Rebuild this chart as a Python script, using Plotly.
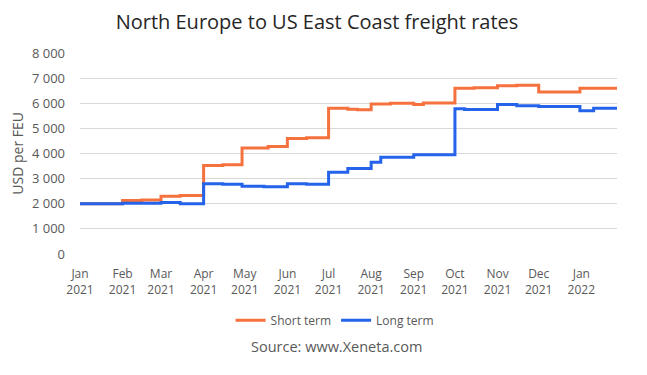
import plotly.graph_objects as go

# Step-change dates and values (USD per FEU)
short_dates = ["2021-01-01", "2021-02-01", "2021-02-15", "2021-03-01", "2021-03-15",
               "2021-04-01", "2021-04-15", "2021-04-29", "2021-05-18", "2021-06-01",
               "2021-06-15", "2021-07-01", "2021-07-15", "2021-07-22", "2021-08-01",
               "2021-08-15", "2021-09-01", "2021-09-08", "2021-10-01", "2021-10-15",
               "2021-11-01", "2021-11-15", "2021-12-01", "2021-12-31", "2022-01-27"]
short_vals = [2000, 2130, 2150, 2300, 2330,
              3520, 3550, 4220, 4280, 4600,
              4630, 5800, 5760, 5740, 5970,
              6000, 5950, 6010, 6600, 6620,
              6700, 6720, 6450, 6600, 6600]

long_dates = ["2021-01-01", "2021-02-01", "2021-03-01", "2021-03-15", "2021-04-01",
              "2021-04-15", "2021-04-29", "2021-05-15", "2021-06-01", "2021-06-15",
              "2021-07-01", "2021-07-15", "2021-08-01", "2021-08-08", "2021-09-01",
              "2021-10-01", "2021-10-08", "2021-11-01", "2021-11-15", "2021-12-01",
              "2021-12-31", "2022-01-10", "2022-01-27"]
long_vals = [2000, 2020, 2050, 2000, 2800,
             2780, 2700, 2680, 2800, 2780,
             3250, 3400, 3650, 3850, 3950,
             5780, 5750, 5950, 5900, 5870,
             5700, 5800, 5780]

tick_dates = ["2021-01-01", "2021-02-01", "2021-03-01", "2021-04-01", "2021-05-01",
              "2021-06-01", "2021-07-01", "2021-08-01", "2021-09-01", "2021-10-01",
              "2021-11-01", "2021-12-01", "2022-01-01"]
tick_labels = ["Jan<br>2021", "Feb<br>2021", "Mar<br>2021", "Apr<br>2021", "May<br>2021",
               "Jun<br>2021", "Jul<br>2021", "Aug<br>2021", "Sep<br>2021", "Oct<br>2021",
               "Nov<br>2021", "Dec<br>2021", "Jan<br>2022"]

FONT = "Open Sans, Poppins, sans-serif"
GREY = "#595959"

fig = go.Figure()
fig.add_trace(go.Scatter(x=short_dates, y=short_vals, name="Short term", mode="lines",
                         line=dict(color="#F5723F", width=3, shape="hv")))
fig.add_trace(go.Scatter(x=long_dates, y=long_vals, name="Long term", mode="lines",
                         line=dict(color="#2563EB", width=3, shape="hv")))

fig.update_layout(
    width=647, height=375,
    margin=dict(l=72, r=38, t=45, b=129),
    paper_bgcolor="white", plot_bgcolor="white",
    separators=", ",
    font=dict(family=FONT, size=12, color=GREY),
    title=dict(text="North Europe to US East Coast freight rates", x=0.4776, xanchor="center",
               y=1 - 14 / 375, yanchor="middle", font=dict(family=FONT, size=20, color="#262626")),
    xaxis=dict(type="date", range=["2021-01-01", "2022-01-27"], tickvals=tick_dates,
               ticktext=tick_labels, showgrid=False, showline=False, ticks="",
               ticklabelstandoff=11, tickfont=dict(size=12, color=GREY), automargin=False),
    yaxis=dict(range=[0, 8000], dtick=1000, tickformat=",d", showgrid=True,
               gridcolor="#D9D9D9", gridwidth=1, zeroline=False, showline=False,
               ticks="", ticklabelstandoff=14, tickfont=dict(size=13, color=GREY),
               automargin=False),
    showlegend=True,
    legend=dict(orientation="h", x=0.475, xanchor="center", y=-0.33, yanchor="middle",
                font=dict(size=12, color=GREY), itemwidth=30, bgcolor="rgba(0,0,0,0)"),
    annotations=[
        dict(text="USD per FEU", textangle=-90, xref="paper", yref="paper",
             x=-0.117, y=0.5, xanchor="center", yanchor="middle", showarrow=False,
             font=dict(size=14, color=GREY)),
        dict(text="Source: www.Xeneta.com", xref="paper", yref="paper",
             x=0.478, y=-0.46, xanchor="center", yanchor="middle", showarrow=False,
             font=dict(size=14.5, color=GREY)),
    ],
)

fig.write_html("out.html")
